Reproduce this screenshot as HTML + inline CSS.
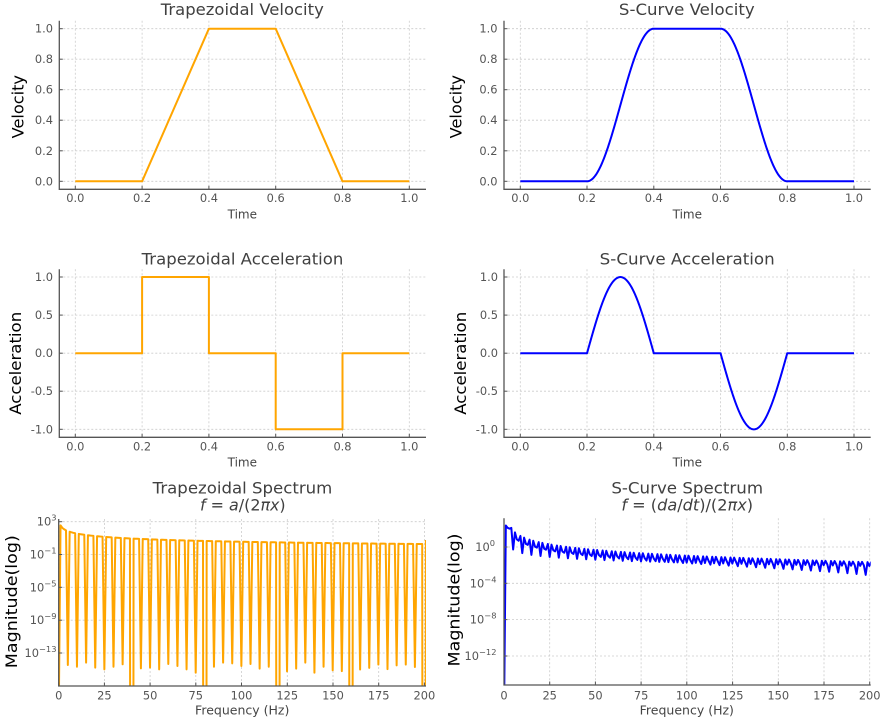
<!DOCTYPE html>
<html><head><meta charset="utf-8"><style>
html,body{margin:0;padding:0;background:#fff;width:886px;height:720px;overflow:hidden;}
svg{display:block;overflow:hidden;}
text{font-family:"DejaVu Sans","Liberation Sans",sans-serif;}
.grid{stroke:#cccccc;stroke-width:0.8;stroke-dasharray:2 2;}
.tick{stroke:#555;stroke-width:1;}
.spine{stroke:#555;stroke-width:1.3;fill:none;}
.tl{font-size:11.4px;fill:#555;}
.ttl{font-size:16px;fill:#404040;}
.xl{font-size:12px;fill:#444;}
.yl{font-size:16px;fill:#000;}
.lg{font-size:11.4px;fill:#555;}
.sup{font-size:8.3px;}
</style></head><body>
<svg id="c" xmlns="http://www.w3.org/2000/svg" width="886" height="720" viewBox="0 0 886 720">
<rect width="886" height="720" fill="#fff"/>
<defs>
<clipPath id="c5"><rect x="58.7" y="519" width="367.3" height="167"/></clipPath>
<clipPath id="c6"><rect x="504" y="518.3" width="366.7" height="166.7"/></clipPath>
</defs>
<g id="geo"></g>

<!-- Titles -->
<text class="ttl" x="242.3" y="15" text-anchor="middle" textLength="163" lengthAdjust="spacingAndGlyphs">Trapezoidal Velocity</text>
<text class="ttl" x="686.8" y="15" text-anchor="middle" textLength="135.7" lengthAdjust="spacingAndGlyphs">S-Curve Velocity</text>
<text class="ttl" x="242.5" y="264.3" text-anchor="middle" textLength="201.7" lengthAdjust="spacingAndGlyphs">Trapezoidal Acceleration</text>
<text class="ttl" x="687.2" y="264.3" text-anchor="middle" textLength="175" lengthAdjust="spacingAndGlyphs">S-Curve Acceleration</text>
<text class="ttl" x="242.5" y="493.7" text-anchor="middle" textLength="179.7" lengthAdjust="spacingAndGlyphs">Trapezoidal Spectrum</text>
<text class="ttl" x="687.2" y="493.7" text-anchor="middle" textLength="151.7" lengthAdjust="spacingAndGlyphs">S-Curve Spectrum</text>
<text class="ttl" x="242.8" y="510.5" text-anchor="middle" textLength="85.7" lengthAdjust="spacingAndGlyphs"><tspan font-style="italic">f</tspan> = <tspan font-style="italic">a</tspan>/(2<tspan font-style="italic">π</tspan><tspan font-style="italic">x</tspan>)</text>
<text class="ttl" x="687.2" y="510.5" text-anchor="middle" textLength="131.7" lengthAdjust="spacingAndGlyphs"><tspan font-style="italic">f</tspan> = (<tspan font-style="italic">da</tspan>/<tspan font-style="italic">dt</tspan>)/(2<tspan font-style="italic">π</tspan><tspan font-style="italic">x</tspan>)</text>

<!-- X labels -->
<text class="xl" x="242.3" y="218.3" text-anchor="middle">Time</text>
<text class="xl" x="687.3" y="218.3" text-anchor="middle">Time</text>
<text class="xl" x="242.3" y="466.7" text-anchor="middle">Time</text>
<text class="xl" x="687.3" y="466.7" text-anchor="middle">Time</text>
<text class="xl" x="242.2" y="714.5" text-anchor="middle" textLength="94.3" lengthAdjust="spacingAndGlyphs">Frequency (Hz)</text>
<text class="xl" x="686.8" y="714.5" text-anchor="middle" textLength="94.3" lengthAdjust="spacingAndGlyphs">Frequency (Hz)</text>

<!-- Y labels -->
<text class="yl" transform="translate(23.5,106.7) rotate(-90)" text-anchor="middle" textLength="63.3" lengthAdjust="spacingAndGlyphs">Velocity</text>
<text class="yl" transform="translate(461.5,106.7) rotate(-90)" text-anchor="middle" textLength="63.3" lengthAdjust="spacingAndGlyphs">Velocity</text>
<text class="yl" transform="translate(21,363.3) rotate(-90)" text-anchor="middle" textLength="103" lengthAdjust="spacingAndGlyphs">Acceleration</text>
<text class="yl" transform="translate(466,363.3) rotate(-90)" text-anchor="middle" textLength="103" lengthAdjust="spacingAndGlyphs">Acceleration</text>
<text class="yl" transform="translate(17,601.7) rotate(-90)" text-anchor="middle" textLength="133" lengthAdjust="spacingAndGlyphs">Magnitude(log)</text>
<text class="yl" transform="translate(459.5,600) rotate(-90)" text-anchor="middle" textLength="133" lengthAdjust="spacingAndGlyphs">Magnitude(log)</text>

<!-- tick labels -->
<g class="tl" text-anchor="end">
<text x="53" y="185.3">0.0</text><text x="53" y="154.8">0.2</text><text x="53" y="124.2">0.4</text><text x="53" y="93.7">0.6</text><text x="53" y="63.2">0.8</text><text x="53" y="32.7">1.0</text>
<text x="497.5" y="185.3">0.0</text><text x="497.5" y="154.8">0.2</text><text x="497.5" y="124.2">0.4</text><text x="497.5" y="93.7">0.6</text><text x="497.5" y="63.2">0.8</text><text x="497.5" y="32.7">1.0</text>
<text x="53" y="281">1.0</text><text x="53" y="319.1">0.5</text><text x="53" y="357.2">0.0</text><text x="53" y="395.2">-0.5</text><text x="53" y="433.3">-1.0</text>
<text x="498" y="281">1.0</text><text x="498" y="319.1">0.5</text><text x="498" y="357.2">0.0</text><text x="498" y="395.2">-0.5</text><text x="498" y="433.3">-1.0</text>
</g>
<g class="tl" text-anchor="middle">
<text x="75.3" y="202">0.0</text><text x="142.1" y="202">0.2</text><text x="208.9" y="202">0.4</text><text x="275.7" y="202">0.6</text><text x="342.5" y="202">0.8</text><text x="409.3" y="202">1.0</text>
<text x="520.3" y="202">0.0</text><text x="587" y="202">0.2</text><text x="653.8" y="202">0.4</text><text x="720.5" y="202">0.6</text><text x="787.3" y="202">0.8</text><text x="854" y="202">1.0</text>
<text x="75.3" y="450.6">0.0</text><text x="142.1" y="450.6">0.2</text><text x="208.9" y="450.6">0.4</text><text x="275.7" y="450.6">0.6</text><text x="342.5" y="450.6">0.8</text><text x="409.3" y="450.6">1.0</text>
<text x="520.3" y="450.6">0.0</text><text x="587" y="450.6">0.2</text><text x="653.8" y="450.6">0.4</text><text x="720.5" y="450.6">0.6</text><text x="787.3" y="450.6">0.8</text><text x="854" y="450.6">1.0</text>
<text x="58.7" y="699.4">0</text><text x="104.4" y="699.4">25</text><text x="150.1" y="699.4">50</text><text x="195.8" y="699.4">75</text><text x="241.5" y="699.4">100</text><text x="287.3" y="699.4">125</text><text x="333" y="699.4">150</text><text x="378.7" y="699.4">175</text><text x="424.4" y="699.4">200</text>
<text x="504" y="699.4">0</text><text x="549.7" y="699.4">25</text><text x="595.4" y="699.4">50</text><text x="641.1" y="699.4">75</text><text x="686.8" y="699.4">100</text><text x="732.6" y="699.4">125</text><text x="778.3" y="699.4">150</text><text x="824" y="699.4">175</text><text x="869.7" y="699.4">200</text>
</g>
<g class="lg" text-anchor="end">
<text x="56.5" y="525.7">10<tspan class="sup" dy="-5">3</tspan></text>
<text x="56.5" y="558.5">10<tspan class="sup" dy="-5">−1</tspan></text>
<text x="56.5" y="591.3">10<tspan class="sup" dy="-5">−5</tspan></text>
<text x="56.5" y="624.2">10<tspan class="sup" dy="-5">−9</tspan></text>
<text x="56.5" y="657">10<tspan class="sup" dy="-5">−13</tspan></text>
<text x="495" y="551">10<tspan class="sup" dy="-5">0</tspan></text>
<text x="496.5" y="587.3">10<tspan class="sup" dy="-5">−4</tspan></text>
<text x="496.5" y="623.6">10<tspan class="sup" dy="-5">−8</tspan></text>
<text x="496.5" y="660">10<tspan class="sup" dy="-5">−12</tspan></text>
</g>
</svg>
<script>
(function(){
var NS='http://www.w3.org/2000/svg';
var g=document.getElementById('geo');
function el(tag,attrs,parent){var e=document.createElementNS(NS,tag);for(var k in attrs)e.setAttribute(k,attrs[k]);(parent||g).appendChild(e);return e;}
function line(x1,y1,x2,y2,cls){el('line',{x1:x1,y1:y1,x2:x2,y2:y2,'class':cls});}
var panels=[
 {L:59.3,R:426,T:20.7,B:189.3,xt:[75.3,142.1,208.9,275.7,342.5,409.3],yt:[181.3,150.8,120.2,89.7,59.2,28.7]},
 {L:504,R:870.7,T:20.7,B:189.3,xt:[520.3,587,653.8,720.5,787.3,854],yt:[181.3,150.8,120.2,89.7,59.2,28.7]},
 {L:59.3,R:426,T:269.3,B:437.3,xt:[75.3,142.1,208.9,275.7,342.5,409.3],yt:[277,315.1,353.2,391.2,429.3]},
 {L:504,R:870.7,T:269.3,B:437.3,xt:[520.3,587,653.8,720.5,787.3,854],yt:[277,315.1,353.2,391.2,429.3]},
 {L:58.7,R:426,T:519,B:686,xt:[58.7,104.4,150.1,195.8,241.5,287.3,333,378.7,424.4],yt:[521.7,554.5,587.3,620.2,653]},
 {L:504,R:870.7,T:518.3,B:685,xt:[504,549.7,595.4,641.1,686.8,732.6,778.3,824,869.7],yt:[547,583.3,619.6,656]}
];
panels.forEach(function(p){
 p.xt.forEach(function(x){line(x,p.T,x,p.B,'grid');});
 p.yt.forEach(function(y){line(p.L,y,p.R,y,'grid');});
});
var OR='#ffa500',BL='#0000ff';
function path(d,color,clip){var a={d:d,fill:'none',stroke:color,'stroke-width':2,'stroke-linejoin':'round','stroke-linecap':'butt'};if(clip)a['clip-path']='url(#'+clip+')';el('path',a);}
path('M75.3,181.3L142.1,181.3L208.9,28.7L275.7,28.7L342.5,181.3L409.3,181.3',OR);
path('M75.3,353.2L142.1,353.2L142.1,277L208.9,277L208.9,353.2L275.7,353.2L275.7,429.3L342.5,429.3L342.5,353.2L409.3,353.2',OR);
function vel(t){if(t<0.2)return 0;if(t<=0.4)return (1-Math.cos(Math.PI*(t-0.2)/0.2))/2;if(t<0.6)return 1;if(t<=0.8)return (1+Math.cos(Math.PI*(t-0.6)/0.2))/2;return 0;}
function acc(t){if(t>=0.2&&t<=0.4)return Math.sin(Math.PI*(t-0.2)/0.2);if(t>=0.6&&t<=0.8)return -Math.sin(Math.PI*(t-0.6)/0.2);return 0;}
var d2='',d4='';
for(var i=0;i<=1000;i++){var t=i/1000;var x=520.3+333.7*t;
 d2+=(i?'L':'M')+x.toFixed(2)+','+(181.3-152.6*vel(t)).toFixed(2);
 d4+=(i?'L':'M')+x.toFixed(2)+','+(353.2-76.15*acc(t)).toFixed(2);}
path(d2,BL);path(d4,BL);
var dips={5:-14.45,10:-14.66,15:-14.17,20:-14.78,25:-14.98,30:-14.66,35:-14.37,45:-14.86,50:-14.78,55:-14.98,60:-14.33,65:-14.58,70:-14.98,75:-15.39,85:-14.66,90:-14.17,95:-14.25,100:-14.58,105:-14.33,110:-14.9,115:-14.66,125:-15.23,130:-14.9,135:-14.17,140:-15.39,145:-14.66,150:-15.1,155:-15.2,165:-15.0,170:-14.8,175:-14.4,180:-14.95,185:-14.5,190:-14.4,195:-14.7};
function X5(f){return 58.7+1.8285*f*0.999;}
var d5='M'+X5(0).toFixed(2)+',719';
for(var k=1;k<=200;k++){
 var x=X5(k);
 if(k%5===0&&dips[k]===undefined){
  // off-scale zero: near-vertical drop
  d5+='L'+X5(k-0.9).toFixed(2)+',719L'+X5(k+0.9).toFixed(2)+',719';
  continue;
 }
 var lv=(k%5===0)?dips[k]:Math.log10(1.118/Math.sin(Math.PI*k/1000));
 var y=521.7+(3-lv)*8.21;
 d5+='L'+x.toFixed(2)+','+y.toFixed(2);
}
d5+='L'+X5(201).toFixed(2)+',540';
path(d5,OR,'c5');
var N=1000,a=[],da=[],dt=1/(N-1);
for(var n=0;n<N;n++){a[n]=acc(n/(N-1));}
for(var n=0;n<N;n++){if(n===0)da[n]=(a[1]-a[0])/dt;else if(n===N-1)da[n]=(a[N-1]-a[N-2])/dt;else da[n]=(a[n+1]-a[n-1])/(2*dt);}
var d6='M504,719';
for(var k=1;k<=203;k++){
 var f=k/(N*dt);
 var re=0,im=0;for(var n=0;n<N;n++){var ang=2*Math.PI*k*n/N;re+=da[n]*Math.cos(ang);im-=da[n]*Math.sin(ang);}
 var m=Math.sqrt(re*re+im*im)/(2*Math.PI*f);var lv=m>0?Math.log10(m):-20;
 var x=504+1.8285*f;var y=Math.min(719,547-lv*9.08);
 d6+='L'+Math.min(885,x).toFixed(2)+','+y.toFixed(2);
}
path(d6,BL,'c6');
panels.forEach(function(p){
 p.xt.forEach(function(x){line(x,p.B,x,p.B-3.5,'tick');});
 p.yt.forEach(function(y){line(p.L,y,p.L+3.5,y,'tick');});
 el('path',{d:'M'+p.L+','+p.T+'L'+p.L+','+p.B+'L'+p.R+','+p.B,'class':'spine'});
});
})();
</script>
</body></html>
